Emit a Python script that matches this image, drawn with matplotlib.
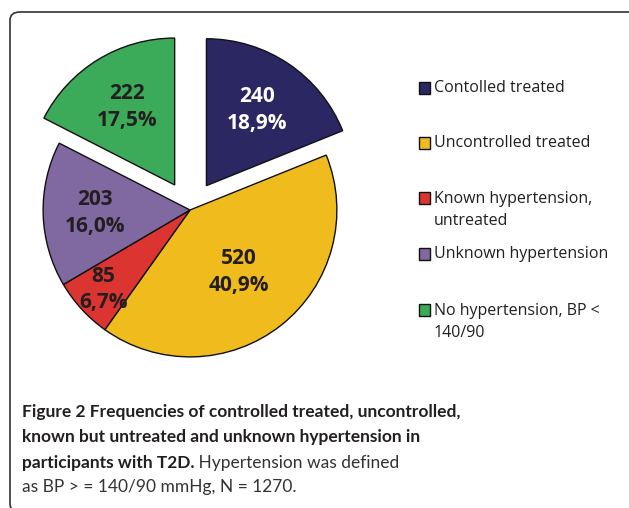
import matplotlib.pyplot as plt
import numpy as np
from matplotlib.patches import FancyBboxPatch, Rectangle

# Data
categories = ['Contolled treated', 'Uncontrolled treated',
              'Known hypertension,\nuntreated', 'Unknown hypertension',
              'No hypertension, BP <\n140/90']
counts = [240, 520, 85, 203, 222]
percents = ['18,9%', '40,9%', '6,7%', '16,0%', '17,5%']

colors = ['#2a2762', '#f0bb1c', '#dc3431', '#8068a0', '#3bab5a']
label_colors = ['white', '#231f20', '#231f20', '#231f20', '#231f20']
explode = [0.2, 0, 0, 0, 0.2]
label_dist = [0.62, 0.54, 0.80, 0.65, 0.62]

W, H = 629, 508
fig = plt.figure(figsize=(W / 100, H / 100), dpi=100)

# border (only top and left visible)
frame = FancyBboxPatch((10 / W, 1 - 512 / H), 630 / W, 500 / H,
                       boxstyle='round,pad=0,rounding_size=0.016',
                       transform=fig.transFigure, fc='none', ec='#333333',
                       lw=1.2, clip_on=False)
fig.patches.append(frame)

# pie axes: centre at (190, 210) px, radius 153 px
R = 153
lim = 1.2
cx, cy = 190, H - 210
half = lim * R
ax = fig.add_axes([(cx - half) / W, (cy - half) / H, 2 * half / W, 2 * half / H])
ax.set_xlim(-lim, lim)
ax.set_ylim(-lim, lim)
ax.set_aspect('equal')
ax.axis('off')

wedges, _ = ax.pie(counts, colors=colors, explode=explode, startangle=90,
                   counterclock=False, radius=1,
                   wedgeprops=dict(edgecolor='#111111', linewidth=1.0))
for w in wedges:
    w.set_clip_on(False)

for i, w in enumerate(wedges):
    ang = np.deg2rad((w.theta1 + w.theta2) / 2)
    x0, y0 = w.center
    x = x0 + label_dist[i] * np.cos(ang)
    y = y0 + label_dist[i] * np.sin(ang)
    ax.text(x, y, f'{counts[i]}\n{percents[i]}', ha='center', va='center',
            fontsize=15, fontweight='bold', color=label_colors[i],
            family='Open Sans', linespacing=1.35)

# legend
leg_y = [88, 143, 198, 254, 310]
for lab, col, y in zip(categories, colors, leg_y):
    fig.patches.append(Rectangle((419 / W, 1 - (y + 6) / H), 11 / W, 12 / H,
                                 transform=fig.transFigure, fc=col,
                                 ec='#111111', lw=1.0))
    if '\n' in lab:
        fig.text(434 / W, 1 - (y - 7) / H, lab, ha='left', va='top',
                 fontsize=11.5, family='Open Sans', color='#231f20',
                 linespacing=1.5)
    else:
        fig.text(434 / W, 1 - y / H, lab, ha='left', va='center',
                 fontsize=11.5, family='Open Sans', color='#231f20')

# caption
cap_font = 'Lato'
fs = 12.5
fig.text(22 / W, 1 - 412 / H, 'Figure 2 Frequencies of controlled treated, uncontrolled,',
         ha='left', va='center', fontsize=fs, fontweight='bold', family=cap_font,
         color='#231f20')
fig.text(22 / W, 1 - 437 / H, 'known but untreated and unknown hypertension in',
         ha='left', va='center', fontsize=fs, fontweight='bold', family=cap_font,
         color='#231f20')
t3 = fig.text(22 / W, 1 - 463 / H, 'participants with T2D.',
              ha='left', va='center', fontsize=fs, fontweight='bold', family=cap_font,
              color='#231f20')
ax.annotate(' Hypertension was defined', xy=(1, 0), xycoords=t3, ha='left', va='bottom',
            fontsize=fs, fontweight='normal', family=cap_font, color='#333333',
            annotation_clip=False)
fig.text(22 / W, 1 - 487 / H, 'as BP > = 140/90 mmHg, N = 1270.',
         ha='left', va='center', fontsize=fs, fontweight='normal', family=cap_font,
         color='#333333')

fig.savefig('out.png', dpi=100)
